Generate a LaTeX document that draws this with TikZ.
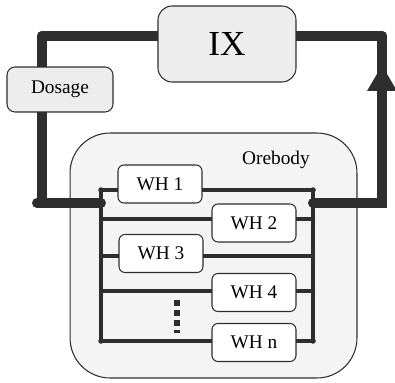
\documentclass[tikz,border=0pt]{standalone}
\usepackage{fontspec}
\setmainfont{Liberation Serif}
\usetikzlibrary{arrows.meta}
\definecolor{pipegray}{HTML}{2E2E2E}
\definecolor{unitgray}{HTML}{EDEDED}
\definecolor{bodygray}{HTML}{F4F4F4}
\tikzset{
    pipe/.style={draw=pipegray, line width=0.2cm, line cap=round},
    feed/.style={draw=pipegray, line width=0.085cm, line cap=round},
    unit/.style={draw=pipegray, line width=0.6pt, fill=unitgray, rounded corners=0.16cm},
    well/.style={draw=pipegray, line width=0.6pt, fill=white, rounded corners=0.12cm,
        minimum width=1.68cm, minimum height=0.76cm, font=\fontsize{11}{13}\selectfont}
}
\begin{document}
\begin{tikzpicture}[x=0.02cm,y=-0.02cm]
    \useasboundingbox (0,0) rectangle (395,382);
    % orebody
    \node[draw=pipegray, line width=0.6pt, fill=bodygray, rounded corners=0.8cm,
        minimum width=5.74cm, minimum height=4.9cm] (orebody) at (213.5,255.5) {};
    \node[font=\fontsize{11}{13}\selectfont] (orelabel) at (276,160) {Orebody};
    % junctions of the loop
    \coordinate (cTL) at (42,36);
    \coordinate (cTR) at (382,36);
    \coordinate (cBL) at (42,203);
    \coordinate (cBR) at (382,203);
    \coordinate (inL) at (101,203);
    \coordinate (inR) at (313,203);
    \coordinate (tip) at (382,65);
    % main loop
    \draw[pipe] (cTL) -- (cTR);
    \draw[pipe] (cTL) -- (cBL);
    \draw[pipe] ([xshift=-0.1cm]cBL) -- (inL);
    \draw[pipe] (inR) -- (cBR) -- (cTR);
    \draw[pipe, -{Triangle[length=0.52cm, width=0.56cm]}] (cBR) -- (tip);
    % well field manifold
    \draw[feed] (101,190) -- (101,341);
    \draw[feed] (313,190) -- (313,341);
    \foreach \y in {190,219,256,291,341}
        \draw[feed] (101,\y) -- (313,\y);
    \foreach \x/\y in {101/190,313/190,101/341,313/341}
        \fill[pipegray] (\x,\y) circle (0.055cm);
    \draw[draw=pipegray, line width=0.12cm, dash pattern=on 0.12cm off 0.08cm] (177,300) -- (177,333);
    % treatment units
    \node[unit, rounded corners=0.28cm, minimum width=2.76cm, minimum height=1.52cm,
        font=\fontsize{20}{24}\selectfont] (IX) at (227,44) {IX};
    \node[unit, minimum width=2.12cm, minimum height=0.9cm,
        font=\fontsize{11}{13}\selectfont] (dosage) at (60,89.5) {Dosage};
    % wellheads
    \node[well] (wh1) at (160,184) {WH 1};
    \node[well] (wh2) at (254,223) {WH 2};
    \node[well] (wh3) at (161,253.5) {WH 3};
    \node[well] (wh4) at (254,292.5) {WH 4};
    \node[well] (whn) at (254,342.5) {WH n};
\end{tikzpicture}
\end{document}
